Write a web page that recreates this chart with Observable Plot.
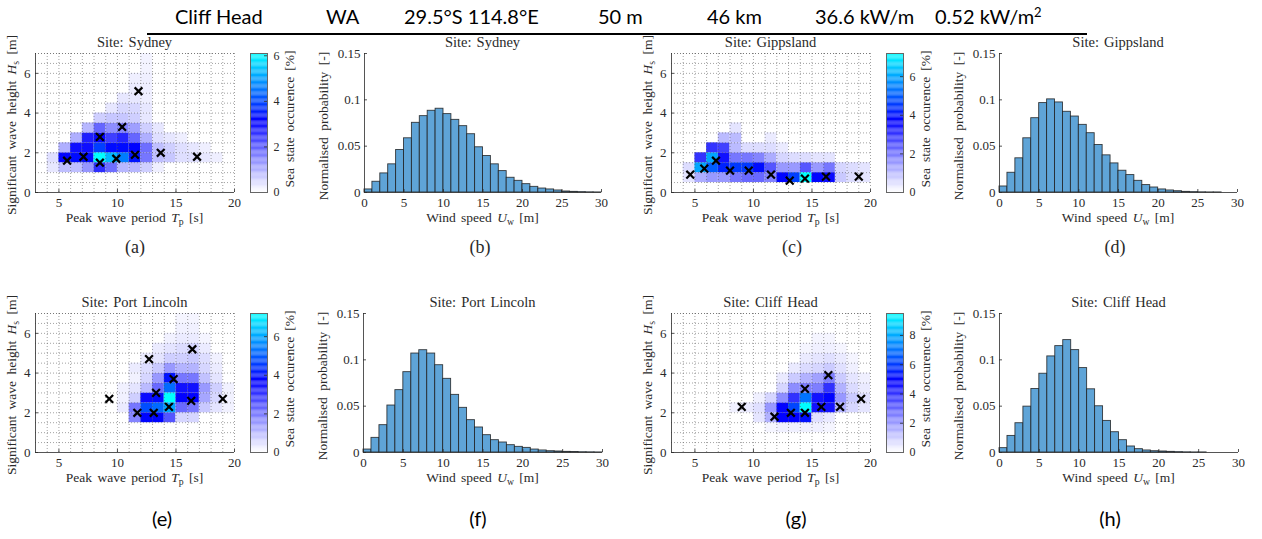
<!DOCTYPE html>
<html>
<head>
<meta charset="utf-8">
<script src="https://cdn.jsdelivr.net/npm/d3@7"></script>
<script src="https://cdn.jsdelivr.net/npm/@observablehq/plot@0.6"></script>
<style>
  body { margin: 0; background: #fff; }
  #root { position: relative; width: 1262px; height: 539px; overflow: hidden; background: #fff; }
  .t { position: absolute; white-space: nowrap; line-height: 1; font-family: "Liberation Serif", "DejaVu Serif", serif; color: #2a2a2a; word-spacing: 2px; }
  .t sub { font-size: 0.72em; line-height: 0; vertical-align: -0.25em; }
  .hdr { position: absolute; white-space: nowrap; line-height: 1; font-family: Lato, "Open Sans", sans-serif; font-size: 20px; color: #000; }
  .hdr sup { font-size: 0.65em; line-height: 0; vertical-align: 0.55em; }
  .lab { position: absolute; white-space: nowrap; line-height: 1; color: #000; }
</style>
</head>
<body>
<div id="root"></div>
<script>
// ---------------- data ----------------
// Sea-state bins: peak period Tp [s] (1 s bins) and significant wave height Hs [m] (0.5 m bins)
const tpEdges = [4,5,6,7,8,9,10,11,12,13,14,15,16,17,18,19,20];
const hsEdges = [0,0.5,1,1.5,2,2.5,3,3.5,4,4.5,5,5.5,6,6.5,7];
const tpTicks = [5,10,15,20];
const hsTicks = [0,2,4,6];

// occurrence [%]; rows = Hs bins (bottom to top), columns = Tp bins 4..19 s
const sydneyOcc = [
  [0,0,0,0,0,0,0,0,0,0,0,0,0,0,0,0],
  [0,0,0,0,0,0,0,0,0,0,0,0,0,0,0,0],
  [0.3,0.8,0.8,1.3,2.6,1.8,0.9,0.9,0.6,0.2,0,0,0,0,0,0],
  [0.4,3.2,3.3,3.3,6.1,5.3,4.6,3.4,1.7,0.8,0.7,0.4,0.4,0.3,0.2,0],
  [0,1.0,3.0,3.0,3.9,3.3,3.3,3.2,1.8,0.8,0.6,0.4,0.3,0.2,0,0],
  [0,0,1.0,2.8,3.1,2.4,2.7,1.9,1.0,0.4,0.3,0.2,0,0,0,0],
  [0,0,0,0.9,1.9,1.4,1.5,1.2,0.6,0.3,0,0,0,0,0,0],
  [0,0,0,0,0.6,0.7,0.7,0.6,0.3,0,0,0,0,0,0,0],
  [0,0,0,0,0,0.3,0.5,0.5,0.3,0,0,0,0,0,0,0],
  [0,0,0,0,0,0,0.3,0.3,0.2,0,0,0,0,0,0,0],
  [0,0,0,0,0,0,0,0.25,0.2,0,0,0,0,0,0,0],
  [0,0,0,0,0,0,0,0.2,0.2,0,0,0,0,0,0,0],
  [0,0,0,0,0,0,0,0,0.15,0,0,0,0,0,0,0],
  [0,0,0,0,0,0,0,0,0.15,0,0,0,0,0,0,0]
];
const gippslandOcc = [
  [0,0,0,0,0,0,0,0,0,0,0,0,0,0,0,0],
  [0.4,1.2,1.5,1.5,2.0,2.2,2.2,1.8,3.8,4.6,7.2,3.8,3.6,0.8,0.5,0.4],
  [0.5,6.0,5.0,4.2,4.5,4.5,3.9,2.5,1.5,1.5,2.5,1.5,2.0,0.6,0.5,0.4],
  [0,3.0,6.0,3.5,2.0,2.0,1.8,1.2,0.6,0.5,0.5,0.4,0.4,0,0,0],
  [0,0,3.0,2.8,1.0,0.5,0.5,0.5,0.3,0,0,0,0,0,0,0],
  [0,0,0,1.0,1.0,0,0,0.3,0,0,0,0,0,0,0,0],
  [0,0,0,0,0.4,0,0,0,0,0,0,0,0,0,0,0],
  [0,0,0,0,0,0,0,0,0,0,0,0,0,0,0,0],
  [0,0,0,0,0,0,0,0,0,0,0,0,0,0,0,0],
  [0,0,0,0,0,0,0,0,0,0,0,0,0,0,0,0],
  [0,0,0,0,0,0,0,0,0,0,0,0,0,0,0,0],
  [0,0,0,0,0,0,0,0,0,0,0,0,0,0,0,0],
  [0,0,0,0,0,0,0,0,0,0,0,0,0,0,0,0],
  [0,0,0,0,0,0,0,0,0,0,0,0,0,0,0,0]
];
const portLincolnOcc = [
  [0,0,0,0,0,0,0,0,0,0,0,0,0,0,0,0],
  [0,0,0,0,0,0,0,0,0,0,0,0,0,0,0,0],
  [0,0,0,0,0,0,0,0,0,0,0,0,0,0,0,0],
  [0,0,0,0,0,0,0,1.8,3.8,3.8,2.5,0.6,0.6,0,0,0],
  [0,0,0,0,0,0,0.3,2.0,4.8,5.2,6.0,2.2,2.0,0.8,0.4,0.2],
  [0,0,0,0,0,0,0.2,0.7,3.6,3.9,7.2,3.7,3.7,1.3,0.6,0.2],
  [0,0,0,0,0,0,0.2,0.4,1.0,2.2,5.2,3.5,3.5,1.5,0.7,0.2],
  [0,0,0,0,0,0,0,0.2,0.6,1.5,4.0,2.0,2.0,0.9,0.4,0],
  [0,0,0,0,0,0,0,0.3,0.5,0.8,1.5,1.1,1.1,0.6,0.3,0],
  [0,0,0,0,0,0,0,0,0.3,0.4,0.7,0.7,0.8,0.5,0.2,0],
  [0,0,0,0,0,0,0,0,0,0.3,0.4,0.5,0.6,0.3,0,0],
  [0,0,0,0,0,0,0,0,0,0,0.2,0.3,0.3,0.15,0,0],
  [0,0,0,0,0,0,0,0,0,0,0,0.2,0.2,0,0,0],
  [0,0,0,0,0,0,0,0,0,0,0,0.15,0.15,0,0,0]
];
const cliffHeadOcc = [
  [0,0,0,0,0,0,0,0,0,0,0,0,0,0,0,0],
  [0,0,0,0,0,0,0,0,0,0,0,0,0,0,0,0],
  [0,0,0,0,0,0,0,0.2,0.3,0.3,0.3,0.3,0.2,0,0,0],
  [0,0,0,0,0,0,0.5,1.5,4.9,4.9,5.2,0.6,0.4,0,0,0],
  [0,0,0,0,0.3,0.4,0.6,2.0,4.9,6.2,9.5,4.6,4.6,1.5,0.8,0.5],
  [0,0,0,0,0,0,0.3,0.8,2.2,4.0,7.0,4.6,5.0,2.0,1.0,0.6],
  [0,0,0,0,0,0,0,0,0.8,2.2,2.5,2.5,4.0,1.5,0.7,0.4],
  [0,0,0,0,0,0,0,0,0.4,1.0,1.5,1.8,2.5,1.0,0.5,0.3],
  [0,0,0,0,0,0,0,0,0,0.4,0.7,0.8,1.0,0.6,0.3,0],
  [0,0,0,0,0,0,0,0,0,0,0.4,0.5,0.6,0.4,0.2,0],
  [0,0,0,0,0,0,0,0,0,0,0.2,0.3,0.3,0.2,0,0],
  [0,0,0,0,0,0,0,0,0,0,0,0.2,0.2,0,0,0],
  [0,0,0,0,0,0,0,0,0,0,0,0,0,0,0,0],
  [0,0,0,0,0,0,0,0,0,0,0,0,0,0,0,0]
];

// representative sea states (x markers)
const sydneyMarkTp = [5.7,7.1,8.5,8.5,9.9,10.4,11.5,11.8,13.7,16.8];
const sydneyMarkHs = [1.6,1.8,1.5,2.8,1.7,3.3,1.9,5.1,2.0,1.8];
const gippslandMarkTp = [4.6,5.8,6.8,8.0,9.6,11.5,13.1,14.4,16.2,19.0];
const gippslandMarkHs = [0.9,1.2,1.6,1.1,1.1,0.9,0.6,0.7,0.8,0.8];
const portLincolnMarkTp = [9.3,11.7,12.7,13.1,13.3,14.4,14.8,16.3,16.4,19.0];
const portLincolnMarkHs = [2.7,2.0,4.7,2.0,3.0,2.3,3.7,2.6,5.2,2.7];
const cliffHeadMarkTp = [9.0,11.8,13.2,14.4,14.4,15.8,16.4,17.4,19.2];
const cliffHeadMarkHs = [2.3,1.8,2.0,3.2,2.0,2.3,3.9,2.3,2.7];

const cbTicksA = [0,2,4,6];
const cbTicksB = [0,2,4,6,8];

// wind speed histograms: 1 m/s bins from 0 to 30
const windEdges = [0,1,2,3,4,5,6,7,8,9,10,11,12,13,14,15,16,17,18,19,20,21,22,23,24,25,26,27,28,29,30];
const windTicks = [0,5,10,15,20,25,30];
const probTicks = [0,0.05,0.1,0.15];
const sydneyWind = [0.0033,0.0116,0.0206,0.0304,0.0459,0.0585,0.0752,0.0824,0.0882,0.0904,0.0846,0.0784,0.0716,0.0629,0.0488,0.0394,0.0304,0.0231,0.0159,0.0126,0.0090,0.0061,0.0043,0.0033,0.0022,0.0011,0.0007,0.0004,0.0002,0.0001];
const gippslandWind = [0.0065,0.0213,0.0369,0.0585,0.0802,0.0965,0.1005,0.0972,0.0871,0.0820,0.0730,0.0640,0.0513,0.0401,0.0314,0.0235,0.0188,0.0126,0.0080,0.0054,0.0033,0.0022,0.0014,0.0007,0.0004,0.0002,0.0001,0.0001,0,0];
const portLincolnWind = [0.0032,0.0158,0.0295,0.0507,0.0673,0.0867,0.1068,0.1104,0.1068,0.0942,0.0795,0.0622,0.0482,0.0349,0.0270,0.0187,0.0133,0.0108,0.0079,0.0061,0.0050,0.0032,0.0022,0.0014,0.0011,0.0007,0.0005,0.0003,0.0002,0.0001];
const cliffHeadWind = [0.0047,0.0179,0.0316,0.0495,0.0685,0.0850,0.1037,0.1148,0.1213,0.1105,0.0911,0.0682,0.0499,0.0341,0.0219,0.0133,0.0065,0.0036,0.0022,0.0014,0.0011,0.0007,0.0004,0.0002,0.0001,0.0001,0,0,0,0];

// header row of the site table
const headerItems = ["Cliff Head","WA","29.5°S 114.8°E","50 m","46 km","36.6 kW/m","0.52 kW/m<sup>2</sup>"];
const headerX = [175,326,404,598,707,815,935];

// ---------------- drawing ----------------
const root = document.getElementById("root");
const plotStyle = {fontFamily: "'Liberation Serif', 'DejaVu Serif', serif", fontSize: "13px", color: "#2a2a2a", background: "transparent", overflow: "visible"};
const AX = "#2a2a2a";
const fmt = d => String(d);

function put(node, left, top) {
  node.style.position = "absolute";
  node.style.left = left + "px";
  node.style.top = top + "px";
  root.appendChild(node);
}
function label(html, cx, cy, opts = {}) {
  const d = document.createElement("div");
  d.className = opts.cls || "t";
  d.innerHTML = html;
  d.style.left = cx + "px";
  d.style.top = cy + "px";
  d.style.fontSize = (opts.size || 13.5) + "px";
  if (opts.family) d.style.fontFamily = opts.family;
  if (opts.ws != null) d.style.wordSpacing = opts.ws + "px";
  d.style.transform = "translate(-50%,-50%)" + (opts.rot ? " rotate(-90deg)" : "");
  root.appendChild(d);
}
function colorScale(max) {
  return {type: "linear", domain: [0, 0.52 * max, max], range: ["#ffffff", "#0000ff", "#00ffff"], interpolate: "rgb"};
}

const FW = 199, FH = 139, MT = 23, SH = 190;
const tickFont = {fontSize: 13, tickSize: 0, label: null, tickFormat: fmt};

function heatPanel(site, occ, markTp, markHs, svgLeft, svgTop, frameLeft, cbLeft, cbTicks) {
  const cells = [];
  occ.forEach((row, i) => row.forEach((v, j) => {
    if (v > 0) cells.push({x1: tpEdges[j], x2: tpEdges[j + 1], y1: hsEdges[i], y2: hsEdges[i + 1], v});
  }));
  const max = d3.max(cells, d => d.v);
  const pts = markTp.map((t, i) => ({tp: t, hs: markHs[i]}));
  const W = 250, mL = frameLeft - svgLeft;
  const svg = Plot.plot({
    width: W, height: SH, marginLeft: mL, marginRight: W - mL - FW, marginTop: MT, marginBottom: SH - MT - FH,
    x: {domain: [3, 20]}, y: {domain: [0, 7]},
    color: colorScale(max),
    style: plotStyle,
    marks: [
      Plot.rect(cells, {x1: "x1", x2: "x2", y1: "y1", y2: "y2", fill: "v"}),
      Plot.ruleX(tpEdges, {stroke: "#555", strokeOpacity: 0.55, strokeDasharray: "1,2"}),
      Plot.ruleY(hsEdges.slice(1).concat([7]), {stroke: "#555", strokeOpacity: 0.55, strokeDasharray: "1,2"}),
      Plot.ruleX([3], {stroke: AX, strokeWidth: 0.8}),
      Plot.ruleY([0], {stroke: AX, strokeWidth: 0.8}),
      Plot.ruleX(tpTicks, {stroke: AX, strokeWidth: 0.8, insetTop: FH - 3}),
      Plot.ruleY(hsTicks, {stroke: AX, strokeWidth: 0.8, insetRight: FW - 3}),
      Plot.axisX({...tickFont, ticks: tpTicks, tickPadding: 5}),
      Plot.axisY({...tickFont, ticks: hsTicks, tickPadding: 5}),
      Plot.dot(pts, {x: "tp", y: "hs", symbol: "times", r: 3.6, stroke: "#000", strokeWidth: 2.2})
    ]
  });
  put(svg, svgLeft, svgTop);

  // colour bar
  const n = 120;
  const steps = d3.range(n).map(i => ({a: max * i / n, b: max * (i + 1) / n, v: max * (i + 0.5) / n}));
  const cb = Plot.plot({
    width: 40, height: SH, marginLeft: 0, marginRight: 23, marginTop: MT, marginBottom: SH - MT - FH,
    x: {domain: [0, 1], axis: null}, y: {domain: [0, max]},
    color: colorScale(max),
    style: plotStyle,
    marks: [
      Plot.rect(steps, {x1: 0, x2: 1, y1: "a", y2: "b", fill: "v"}),
      Plot.frame({stroke: "#666", strokeWidth: 1}),
      Plot.ruleY(cbTicks.filter(t => t > 0 && t < max), {stroke: AX, strokeWidth: 0.8, insetLeft: 17 - 3}),
      Plot.axisY({...tickFont, fontSize: 12, anchor: "right", ticks: cbTicks, tickPadding: 6})
    ]
  });
  put(cb, cbLeft, svgTop);

  const cx = frameLeft + FW / 2, top = svgTop + MT;
  label("Site: " + site, cx, top - 11, {size: 14.5, ws: 1.5});
  label("Peak wave period <i>T</i><sub>p</sub> [s]", cx, top + FH + 26, {ws: 2});
  label("Significant wave height <i>H</i><sub>s</sub> [m]", frameLeft - 23, top + FH / 2 + 2, {rot: true, ws: 3});
  label("Sea state occurence [%]", cbLeft + 40, top + FH / 2 - 4, {rot: true, ws: 2.5});
}

function histPanel(site, vals, svgLeft, svgTop, frameLeft, frameW) {
  const bars = vals.map((v, i) => ({x1: windEdges[i], x2: windEdges[i + 1], v}));
  const W = 310, mL = frameLeft - svgLeft;
  const svg = Plot.plot({
    width: W, height: SH, marginLeft: mL, marginRight: W - mL - frameW, marginTop: MT, marginBottom: SH - MT - FH,
    x: {domain: [0, 30]}, y: {domain: [0, 0.15]},
    style: plotStyle,
    marks: [
      Plot.rectY(bars, {x1: "x1", x2: "x2", y: "v", fill: "#5fa4d7", stroke: "#1d1d1d", strokeWidth: 0.9, strokeOpacity: 0.85}),
      Plot.ruleX([0], {stroke: AX, strokeWidth: 0.8}),
      Plot.ruleY([0], {stroke: AX, strokeWidth: 0.8}),
      Plot.ruleX(windTicks, {stroke: AX, strokeWidth: 0.8, insetTop: FH - 3}),
      Plot.ruleY(probTicks, {stroke: AX, strokeWidth: 0.8, insetRight: frameW - 3}),
      Plot.axisX({...tickFont, ticks: windTicks, tickPadding: 5}),
      Plot.axisY({...tickFont, ticks: probTicks, tickPadding: 4})
    ]
  });
  put(svg, svgLeft, svgTop);
  const cx = frameLeft + frameW / 2, top = svgTop + MT;
  label("Site: " + site, cx, top - 11, {size: 14.5, ws: 1.5});
  label("Wind speed <i>U</i><sub>w</sub> [m]", cx, top + FH + 26, {ws: 2});
  label("Normalised probability [-]", frameLeft - 40, top + FH / 2 + 3, {rot: true, ws: 3});
}

heatPanel("Sydney", sydneyOcc, sydneyMarkTp, sydneyMarkHs, 0, 30, 35, 250, cbTicksA);
histPanel("Sydney", sydneyWind, 300, 30, 364, 237);
heatPanel("Gippsland", gippslandOcc, gippslandMarkTp, gippslandMarkHs, 630, 30, 671, 886, cbTicksA);
histPanel("Gippsland", gippslandWind, 935, 30, 999, 238);
heatPanel("Port Lincoln", portLincolnOcc, portLincolnMarkTp, portLincolnMarkHs, 0, 290, 35, 250, cbTicksA);
histPanel("Port Lincoln", portLincolnWind, 300, 290, 363, 239);
heatPanel("Cliff Head", cliffHeadOcc, cliffHeadMarkTp, cliffHeadMarkHs, 630, 290, 671, 886, cbTicksB);
histPanel("Cliff Head", cliffHeadWind, 935, 290, 999, 239);

// sub-figure labels
[["(a)",135],["(b)",480],["(c)",792],["(d)",1115]].forEach(([s, x]) => label(s, x, 247, {size: 18}));
[["(e)",162],["(f)",478],["(g)",796],["(h)",1110]].forEach(([s, x]) => label(s, x, 518, {size: 20, cls: "lab", family: "Lato, 'Open Sans', sans-serif"}));

// header row
headerItems.forEach((s, i) => {
  const d = document.createElement("div");
  d.className = "hdr";
  d.innerHTML = s;
  d.style.left = headerX[i] + "px";
  d.style.top = "6px";
  root.appendChild(d);
});
const line = document.createElement("div");
line.style.cssText = "position:absolute;left:147px;top:33px;width:940px;height:2px;background:#000;";
root.appendChild(line);
</script>
</body>
</html>
